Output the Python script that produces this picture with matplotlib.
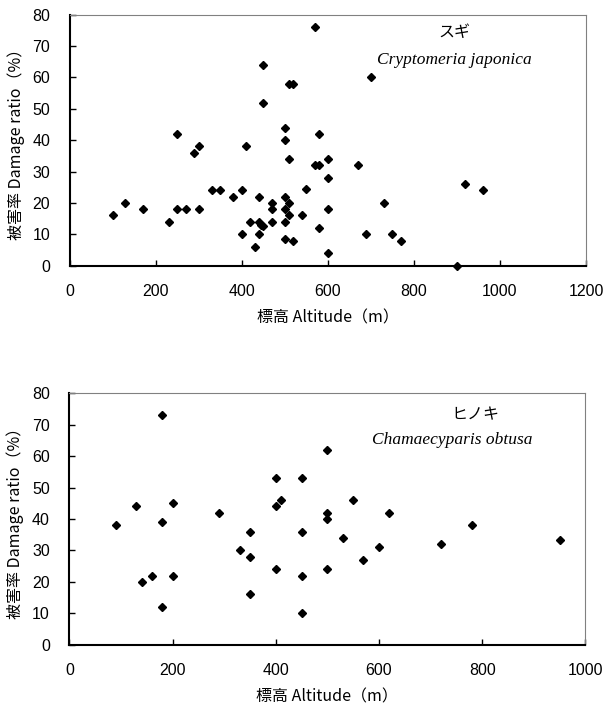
import matplotlib
matplotlib.use("Agg")
import matplotlib.pyplot as plt

# ===== data: スギ (Cryptomeria japonica) =====
sugi_alt = [100, 130, 170, 230, 250, 250, 270, 290, 300, 300,
            330, 350, 380, 400, 400, 410, 420, 430, 440, 440,
            440, 445, 450, 450, 450, 470, 470, 470, 500, 500,
            500, 500, 500, 500, 510, 510, 510, 510, 520, 520,
            540, 550, 570, 570, 580, 580, 580, 600, 600, 600,
            600, 670, 690, 700, 730, 750, 770, 900, 920, 960]
sugi_dmg = [16, 20, 18, 14, 42, 18, 18, 36, 38, 18,
            24, 24, 22, 24, 10, 38, 14, 6, 22, 10,
            14, 13, 12.5, 64, 52, 20, 18, 14, 44, 40,
            22, 18, 14, 8.5, 34, 20, 16, 58, 58, 8,
            16, 24.3, 76, 32, 32, 42, 12, 34, 28, 18,
            4, 32, 10, 60, 20, 10, 8, 0, 26, 24]

# ===== data: ヒノキ (Chamaecyparis obtusa) =====
hinoki_alt = [90, 130, 140, 160, 180, 180, 180, 200, 200, 290,
              330, 350, 350, 350, 400, 400, 400, 410, 450, 450,
              450, 450, 500, 500, 500, 500, 530, 550, 570, 600,
              620, 720, 780, 950]
hinoki_dmg = [38, 44, 20, 22, 73, 39, 12, 45, 22, 42,
              30, 36, 28, 16, 53, 44, 24, 46, 53, 36,
              22, 10, 62, 42, 40, 24, 34, 46, 27, 31,
              42, 32, 38, 33.3]

y_ticks = [0, 10, 20, 30, 40, 50, 60, 70, 80]
top_xticks = [0, 200, 400, 600, 800, 1000, 1200]
bot_xticks = [0, 200, 400, 600, 800, 1000]

JP = ["Noto Sans CJK JP", "DejaVu Sans"]
TICKFONT = "Liberation Sans"

fig = plt.figure(figsize=(6.06, 7.06), dpi=100)
ax1 = fig.add_axes([0.1147, 0.6237, 0.8523, 0.3555])
ax2 = fig.add_axes([0.1144, 0.0868, 0.8515, 0.3561])


def style(ax, xmax, xticks):
    ax.set_xlim(0, xmax)
    ax.set_ylim(0, 80)
    ax.set_xticks(xticks)
    ax.set_yticks(y_ticks)
    for s in ["left", "bottom"]:
        ax.spines[s].set_linewidth(1.5)
        ax.spines[s].set_color("black")
    for s in ["top", "right"]:
        ax.spines[s].set_linewidth(0.8)
        ax.spines[s].set_color("#808080")
    ax.tick_params(direction="in", length=4.5, width=1.0, color="black")
    ax.tick_params(axis="x", pad=13)
    ax.tick_params(axis="y", pad=14)
    for lab in ax.get_xticklabels() + ax.get_yticklabels():
        lab.set_fontfamily(TICKFONT)
        lab.set_fontsize(11.5)
    ax.set_ylabel("被害率 Damage ratio（%）", family=JP, fontsize=11.5, labelpad=5.5)
    ax.set_xlabel("標高 Altitude（m）", family=JP, fontsize=11.5, labelpad=7.5)


ax1.plot(sugi_alt, sugi_dmg, "D", color="black", ms=4.4, ls="none", clip_on=False)
style(ax1, 1200, top_xticks)
ax1.text(0.746, 0.931, "スギ", transform=ax1.transAxes, family=JP,
         fontsize=11.5, ha="center", va="center")
ax1.text(0.746, 0.820, "Cryptomeria japonica", transform=ax1.transAxes,
         family="Liberation Serif", style="italic", fontsize=12.5,
         ha="center", va="center")

ax2.plot(hinoki_alt, hinoki_dmg, "D", color="black", ms=4.4, ls="none", clip_on=False)
style(ax2, 1000, bot_xticks)
ax2.text(0.786, 0.914, "ヒノキ", transform=ax2.transAxes, family=JP,
         fontsize=11.5, ha="center", va="center")
ax2.text(0.742, 0.814, "Chamaecyparis obtusa", transform=ax2.transAxes,
         family="Liberation Serif", style="italic", fontsize=12.5,
         ha="center", va="center")

fig.savefig("out.png", dpi=100)
